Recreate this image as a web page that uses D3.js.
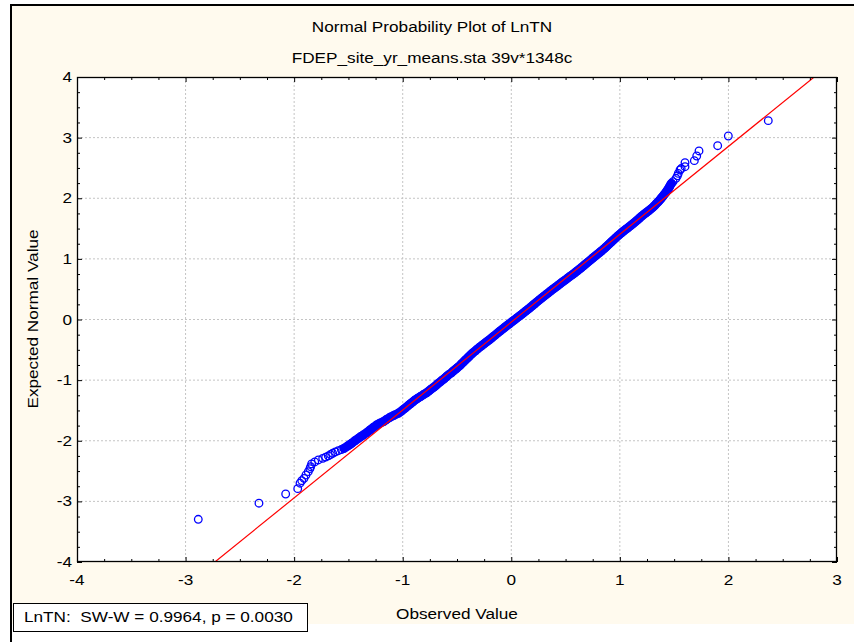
<!DOCTYPE html>
<html><head><meta charset="utf-8">
<script src="https://cdn.jsdelivr.net/npm/d3@7"></script>
<style>
html,body{margin:0;padding:0;background:#fff;}
svg{display:block;}
text{font-family:"Liberation Sans",Arial,sans-serif;font-size:14.2px;fill:#000;white-space:pre;}
</style></head>
<body>
<svg id="chart" width="867" height="642"></svg>
<script>
// ---------- data ----------
const titleText = "Normal Probability Plot of LnTN";
const subtitleText = "FDEP_site_yr_means.sta 39v*1348c";
const xAxisTitle = "Observed Value";
const yAxisTitle = "Expected Normal Value";
const statText = "LnTN:  SW-W = 0.9964, p = 0.0030";
const xTickLabels = [-4, -3, -2, -1, 0, 1, 2, 3];
const yTickLabels = [-4, -3, -2, -1, 0, 1, 2, 3, 4];

const observed = [
 -2.883,-2.324,-2.078,-1.967,-1.946,-1.930,-1.909,-1.891,-1.870,-1.855,-1.848,-1.839,-1.810,-1.777,-1.737,-1.710,-1.685,-1.665,-1.645,-1.620,-1.593,-1.565,-1.541,-1.510,-1.490,-1.470,-1.440,-1.409,-1.385,-1.363,-1.330,-1.301,-1.270,-1.240,-1.210,-1.179,-1.150,-1.117,-1.080,-1.041,
 -1.012,-0.991,-0.970,-0.950,-0.929,-0.908,-0.888,-0.862,-0.836,-0.810,-0.782,-0.760,-0.739,-0.716,-0.695,-0.678,-0.655,-0.636,-0.614,-0.596,-0.576,-0.552,-0.535,-0.512,-0.494,-0.474,-0.458,-0.440,-0.424,-0.406,-0.389,-0.372,-0.354,-0.333,-0.314,-0.294,-0.272,-0.250,-0.228,-0.206,-0.185,-0.165,-0.144,-0.124,-0.103,-0.082,-0.061,-0.040,-0.017,0.004,0.026,
 0.048,0.070,0.092,0.113,0.134,0.155,0.176,0.196,0.216,0.236,0.256,0.277,0.298,0.319,0.341,0.362,0.384,0.406,0.428,0.450,0.472,0.495,0.517,0.540,0.563,0.585,0.606,0.627,0.648,0.668,0.688,0.708,0.728,0.748,0.768,0.789,0.810,0.830,0.850,0.868,
 0.886,0.904,0.922,0.940,0.958,0.976,0.995,1.015,1.035,1.057,1.079,1.100,1.121,1.141,1.160,1.179,1.198,1.218,1.240,1.262,1.283,1.303,1.320,1.336,1.352,1.367,1.381,1.395,1.408,1.421,1.433,1.444,1.454,1.463,
 1.475,1.490,1.517,1.530,1.538,1.554,1.565,1.600,1.600,1.686,1.708,1.729,1.901,1.999,2.367
];
const expected = [
 -3.296,-3.030,-2.878,-2.790,-2.700,-2.659,-2.620,-2.565,-2.510,-2.460,-2.428,-2.383,-2.350,-2.317,-2.290,-2.270,-2.250,-2.228,-2.207,-2.185,-2.164,-2.145,-2.125,-2.090,-2.066,-2.042,-2.000,-1.960,-1.930,-1.905,-1.865,-1.823,-1.780,-1.740,-1.710,-1.686,-1.650,-1.613,-1.580,-1.547,
 -1.51,-1.48,-1.45,-1.42,-1.39,-1.36,-1.33,-1.30,-1.27,-1.24,-1.21,-1.18,-1.15,-1.12,-1.09,-1.06,-1.03,-1.00,-0.97,-0.94,-0.91,-0.88,-0.85,-0.82,-0.79,-0.76,-0.73,-0.70,-0.67,-0.64,-0.61,-0.58,-0.55,-0.52,-0.49,-0.46,-0.43,-0.40,-0.37,-0.34,-0.31,-0.28,-0.25,-0.22,-0.19,-0.16,-0.13,-0.10,-0.07,-0.04,-0.01,
 0.02,0.05,0.08,0.11,0.14,0.17,0.20,0.23,0.26,0.29,0.32,0.35,0.38,0.41,0.44,0.47,0.50,0.53,0.56,0.59,0.62,0.65,0.68,0.71,0.74,0.77,0.80,0.83,0.86,0.89,0.92,0.95,0.98,1.01,1.04,1.07,1.10,1.13,1.16,1.19,
 1.22,1.25,1.28,1.31,1.34,1.37,1.40,1.43,1.46,1.49,1.52,1.55,1.58,1.61,1.64,1.67,1.70,1.73,1.76,1.79,1.82,1.85,1.88,1.91,1.94,1.97,2.00,2.03,2.06,2.09,2.12,2.15,2.18,2.21,
 2.245,2.273,2.329,2.370,2.410,2.466,2.490,2.520,2.587,2.620,2.697,2.780,2.867,3.027,3.280
];
// reference (fitted) line, given by its end values
const fitObserved = [-2.73, 2.79];
const fitExpected = [-4, 4];
// range of expected values where the 1348 markers overlap into a solid band
const denseRange = [-2.13, 2.25];

// ---------- layout ----------
const SX = 1.21; // horizontal stretch of the original lettering
const svg = d3.select("#chart");
const P = {left: 77, right: 837, top: 77, bottom: 562};

const x = d3.scaleLinear().domain([-4, 3]).range([P.left, P.right]);
const y = d3.scaleLinear().domain([-4, 4]).range([P.bottom, P.top]);

function stext(g, tx, ty, str, anchor, rot) {
  return g.append("text")
    .attr("transform", `translate(${tx},${ty}) rotate(${rot || 0}) scale(${SX},1)`)
    .attr("text-anchor", anchor || "middle")
    .attr("xml:space", "preserve")
    .text(str);
}

// background panel
svg.append("rect").attr("x", 0).attr("y", 0).attr("width", 867).attr("height", 642).attr("fill", "#ffffff");
svg.append("rect").attr("x", 11).attr("y", 5).attr("width", 843).attr("height", 619).attr("fill", "#fffaee");
svg.append("line").attr("x1", 11).attr("x2", 854).attr("y1", 5).attr("y2", 5).attr("stroke", "#000").attr("stroke-width", 2);
svg.append("line").attr("x1", 11).attr("x2", 11).attr("y1", 4).attr("y2", 642).attr("stroke", "#000").attr("stroke-width", 2);

// plot area
svg.append("rect").attr("x", P.left).attr("y", P.top)
  .attr("width", P.right - P.left).attr("height", P.bottom - P.top).attr("fill", "#ffffff");

// grid
const grid = svg.append("g");
grid.selectAll(".gx").data(xTickLabels.filter(d => d > -4 && d < 3)).join("line")
  .attr("x1", d => x(d)).attr("x2", d => x(d)).attr("y1", P.top).attr("y2", P.bottom)
  .attr("stroke", "#c4c4c4").attr("stroke-width", 1).attr("stroke-dasharray", "2,2");
grid.selectAll(".gy").data(yTickLabels.filter(d => d > -4 && d < 4)).join("line")
  .attr("y1", d => y(d)).attr("y2", d => y(d)).attr("x1", P.left).attr("x2", P.right)
  .attr("stroke", "#c4c4c4").attr("stroke-width", 1).attr("stroke-dasharray", "2,2");

// clip
svg.append("clipPath").attr("id", "clip").append("rect")
  .attr("x", P.left).attr("y", P.top).attr("width", P.right - P.left).attr("height", P.bottom - P.top);

const pairs = observed.map((o, i) => [o, expected[i]]);
const pts = svg.append("g").attr("clip-path", "url(#clip)");

// solid band formed by the heavily overlapping markers
const densePairs = pairs.filter(d => d[1] >= denseRange[0] && d[1] <= denseRange[1]);
pts.append("path").datum(densePairs)
  .attr("d", d3.line().x(d => x(d[0])).y(d => y(d[1])))
  .attr("fill", "none").attr("stroke", "#0000ff").attr("stroke-width", 9)
  .attr("stroke-linejoin", "round").attr("stroke-linecap", "round");

// individual markers
pts.selectAll("circle").data(pairs).join("circle")
  .attr("cx", d => x(d[0])).attr("cy", d => y(d[1])).attr("r", 3.8)
  .attr("fill", "none").attr("stroke", "#0000ff").attr("stroke-width", 1.3);

// fitted line
svg.append("g").attr("clip-path", "url(#clip)").append("line")
  .attr("x1", x(fitObserved[0])).attr("y1", y(fitExpected[0]))
  .attr("x2", x(fitObserved[1])).attr("y2", y(fitExpected[1]))
  .attr("stroke", "#ff0000").attr("stroke-width", 1.2);

// axes ticks (inside, on all four sides)
const xMinor = d3.range(-4, 3.001, 0.25);
const yMinor = d3.range(-4, 4.001, 0.25);
const isMajor = v => Math.abs(v - Math.round(v)) < 1e-6;
const axes = svg.append("g");
axes.append("g").attr("transform", `translate(0,${P.bottom})`)
  .call(d3.axisBottom(x).tickValues(xMinor).tickSizeOuter(0).tickSizeInner(0).tickFormat(""))
  .call(g => g.select(".domain").remove())
  .call(g => g.selectAll(".tick line").attr("y2", d => isMajor(d) ? -5 : -3));
axes.append("g").attr("transform", `translate(0,${P.top})`)
  .call(d3.axisTop(x).tickValues(xMinor).tickSizeOuter(0).tickSizeInner(0).tickFormat(""))
  .call(g => g.select(".domain").remove())
  .call(g => g.selectAll(".tick line").attr("y2", d => isMajor(d) ? 5 : 3));
axes.append("g").attr("transform", `translate(${P.left},0)`)
  .call(d3.axisLeft(y).tickValues(yMinor).tickSizeOuter(0).tickSizeInner(0).tickFormat(""))
  .call(g => g.select(".domain").remove())
  .call(g => g.selectAll(".tick line").attr("x2", d => isMajor(d) ? 5 : 3));
axes.append("g").attr("transform", `translate(${P.right},0)`)
  .call(d3.axisRight(y).tickValues(yMinor).tickSizeOuter(0).tickSizeInner(0).tickFormat(""))
  .call(g => g.select(".domain").remove())
  .call(g => g.selectAll(".tick line").attr("x2", d => isMajor(d) ? -5 : -3));
axes.selectAll(".tick line").attr("stroke", "#000").attr("stroke-width", 1);

svg.append("rect").attr("x", P.left + 0.5).attr("y", P.top + 0.5)
  .attr("width", P.right - P.left - 1).attr("height", P.bottom - P.top - 1)
  .attr("fill", "none").attr("stroke", "#000").attr("stroke-width", 1.3);

// tick labels
const labels = svg.append("g");
xTickLabels.forEach(v => stext(labels, x(v), 585, String(v), "middle"));
yTickLabels.forEach(v => stext(labels, 72, y(v) + 5, String(v), "end"));

// titles
stext(svg, 432, 32, titleText, "middle");
stext(svg, 432, 63, subtitleText, "middle");
stext(svg, 457, 619, xAxisTitle, "middle");
stext(svg, 38, 319, yAxisTitle, "middle", -90);

// statistics box
svg.append("rect").attr("x", 13.5).attr("y", 603.5).attr("width", 294).attr("height", 28)
  .attr("fill", "#ffffff").attr("stroke", "#000").attr("stroke-width", 1);
stext(svg, 24, 622, statText, "start");
</script>
</body></html>
